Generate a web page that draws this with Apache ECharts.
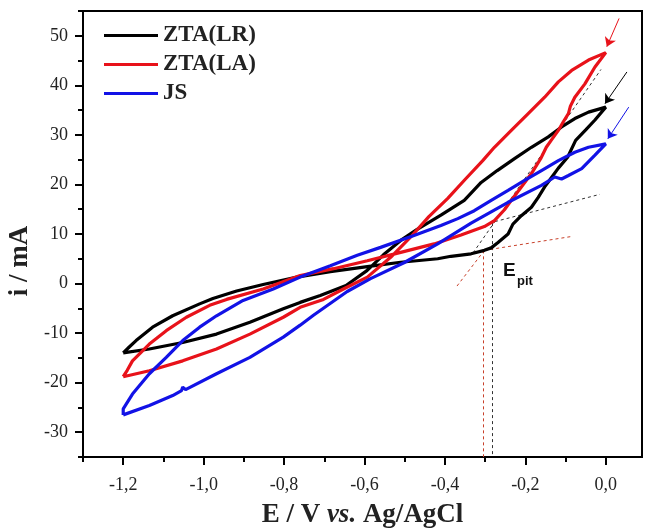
<!DOCTYPE html>
<html>
<head>
<meta charset="utf-8">
<script src="https://cdn.jsdelivr.net/npm/echarts@6/dist/echarts.min.js"></script>
<style>
  html, body { margin: 0; padding: 0; background: #fff; }
  #chart { width: 650px; height: 530px; }
</style>
</head>
<body>
<div id="chart"></div>
<script>
// series names
const names = ['ZTA(LR)', 'ZTA(LA)', 'JS']
const colors = ['#000000', '#e8121a', '#1212e6']

// tick positions
const xMajor = [-1.2, -1.0, -0.8, -0.6, -0.4, -0.2, 0.0]
const xMinor = [-1.3, -1.1, -0.9, -0.7, -0.5, -0.3, -0.1]
const yMajor = [-30, -20, -10, 0, 10, 20, 30, 40, 50]
const yMinor = [-35, -25, -15, -5, 5, 15, 25, 35, 45, 55]

// loops: [E (V), i (mA)]
const ztaLR = [
  [-1.2, -14.0], [-1.185, -12.8], [-1.168, -11.5], [-1.127, -8.8], [-1.077, -6.5],
  [-1.01, -4.1], [-0.977, -3.0], [-0.918, -1.5], [-0.852, -0.2], [-0.768, 1.3],
  [-0.685, 2.4], [-0.593, 3.4], [-0.51, 4.3], [-0.418, 5.0], [-0.385, 5.5],
  [-0.335, 6.0], [-0.302, 6.7], [-0.285, 7.2], [-0.268, 8.3], [-0.243, 10.0],
  [-0.231, 12.0], [-0.21, 13.7], [-0.185, 15.4], [-0.168, 17.4], [-0.152, 19.5],
  [-0.135, 21.4], [-0.118, 23.3], [-0.095, 25.5], [-0.075, 28.9], [-0.05, 31.0],
  [-0.027, 33.0], [0, 35.6],
  [-0.043, 34.6], [-0.077, 33.3], [-0.11, 31.6], [-0.143, 29.6], [-0.185, 27.5],
  [-0.227, 25.2], [-0.27, 22.8], [-0.31, 20.4], [-0.352, 16.8], [-0.41, 13.8],
  [-0.47, 10.9], [-0.51, 8.7], [-0.553, 5.8], [-0.594, 2.6], [-0.646, -0.4],
  [-0.71, -2.4], [-0.76, -3.8], [-0.802, -5.1], [-0.885, -7.8], [-0.968, -10.2],
  [-1.052, -11.9], [-1.135, -13.2], [-1.2, -14.0]
]
const ztaLA = [
  [-1.2, -18.8], [-1.19, -17.5], [-1.177, -15.6], [-1.135, -12.2], [-1.093, -9.5],
  [-1.043, -6.8], [-0.985, -4.4], [-0.943, -3.2], [-0.852, -1.1], [-0.76, 1.6],
  [-0.677, 3.0], [-0.593, 4.6], [-0.51, 6.3], [-0.427, 8.0], [-0.36, 9.8],
  [-0.302, 11.5], [-0.277, 12.7], [-0.252, 14.9], [-0.235, 16.8], [-0.21, 19.5],
  [-0.185, 22.2], [-0.162, 25.2], [-0.148, 27.5], [-0.135, 29.0], [-0.118, 30.9],
  [-0.106, 32.6], [-0.093, 34.3], [-0.088, 35.8], [-0.077, 37.6], [-0.052, 40.3],
  [-0.027, 43.7], [0, 46.6],
  [-0.043, 45.1], [-0.085, 43.0], [-0.118, 40.7], [-0.152, 37.6], [-0.193, 34.3],
  [-0.235, 30.9], [-0.277, 27.5], [-0.306, 24.8], [-0.35, 21.0], [-0.393, 17.2],
  [-0.44, 13.5], [-0.485, 9.4], [-0.535, 5.3], [-0.593, 1.3], [-0.65, -1.0],
  [-0.702, -3.2], [-0.76, -4.8], [-0.802, -6.8], [-0.885, -10.2], [-0.968, -13.2],
  [-1.052, -15.6], [-1.135, -17.6], [-1.2, -18.8]
]
const js = [
  [-1.2, -26.5], [-1.135, -24.6], [-1.077, -22.6], [-1.055, -21.6], [-1.052, -20.9],
  [-1.045, -21.4], [-0.968, -18.2], [-0.885, -14.9], [-0.802, -10.8], [-0.76, -8.4],
  [-0.727, -6.4], [-0.643, -1.6], [-0.585, 1.0], [-0.502, 4.2], [-0.418, 8.0],
  [-0.335, 12.2], [-0.243, 16.4], [-0.16, 19.8], [-0.127, 21.5], [-0.11, 21.1],
  [-0.093, 21.8], [-0.06, 23.2], [-0.027, 25.9], [0, 28.2],
  [-0.043, 27.5], [-0.077, 26.5], [-0.118, 24.8], [-0.16, 22.8], [-0.202, 20.8],
  [-0.243, 18.8], [-0.285, 16.8], [-0.327, 14.7], [-0.368, 13.1], [-0.41, 11.7],
  [-0.477, 9.7], [-0.56, 7.3], [-0.618, 5.7], [-0.685, 3.6], [-0.76, 1.3],
  [-0.827, -1.1], [-0.902, -3.4], [-0.968, -6.5], [-1.01, -8.8], [-1.052, -11.5],
  [-1.093, -14.9], [-1.135, -18.2], [-1.177, -22.3], [-1.2, -25.3], [-1.2, -26.5]
]

// E_pit construction lines (dotted)
const blackGuides = [
  [[-0.33, 6.2], [-0.012, 43.2]],
  [[-0.29, 12.2], [-0.015, 18.0]],
  [[-0.283, 12.2], [-0.283, -35]]
]
const redGuides = [
  [[-0.37, -0.5], [-0.302, 6.7]],
  [[-0.302, 6.7], [-0.085, 9.5]],
  [[-0.304, 6.7], [-0.304, -35]]
]
// scan direction arrows: red, black, blue
const arrows = [
  [[0.033, 53.5], [0.0025, 47.8]],
  [[0.0525, 42.7], [-0.002, 36.3]],
  [[0.057, 35.6], [0.005, 29.2]]
]
const arrowColors = [colors[1], colors[0], colors[2]]

const serif = 'Liberation Serif'
const chart = echarts.init(document.getElementById('chart'))

const loopSeries = [ztaLR, ztaLA, js].map((d, i) => ({
  name: names[i],
  type: 'line',
  data: d,
  showSymbol: false,
  symbol: 'none',
  lineStyle: { color: colors[i], width: 3.2 },
  itemStyle: { color: colors[i] },
  z: 3 + i,
}))

const guideSeries = (segs, color) => ({
  type: 'lines',
  coordinateSystem: 'cartesian2d',
  data: segs.map((c) => ({ coords: c })),
  lineStyle: { color: color, width: 1, type: [3, 3], opacity: 1 },
  z: 2,
})

const tickStyle = { color: '#000', width: 2 }

chart.setOption({
  animation: false,
  backgroundColor: '#fff',
  grid: {
    left: 83, right: 8, top: 11, bottom: 73,
    outerBoundsMode: 'none',
    show: true, borderColor: '#000', borderWidth: 2,
  },
  legend: {
    data: names,
    orient: 'vertical',
    left: 99, top: 19,
    itemWidth: 54, itemHeight: 3, itemGap: 6,
    icon: 'rect',
    textStyle: { fontFamily: serif, fontWeight: 'bold', fontSize: 23, color: '#222' },
  },
  xAxis: [
    {
      type: 'value',
      position: 'bottom',
      min: -1.3, max: 0.09,
      splitLine: { show: false },
      axisLine: { onZero: false, lineStyle: { color: '#000', width: 2 } },
      axisTick: { customValues: xMajor, length: 8, lineStyle: tickStyle },
      axisLabel: {
        customValues: xMajor,
        margin: 19, fontFamily: serif, fontSize: 18, color: '#222',
        formatter: (v) => v.toFixed(1).replace('.', ','),
      },
      name: '{b|E / V }{i|vs.}{b| Ag/AgCl}',
      nameLocation: 'middle',
      nameGap: 45,
      nameTextStyle: {
        rich: {
          b: { fontFamily: serif, fontWeight: 'bold', fontSize: 27, color: '#222' },
          i: { fontFamily: serif, fontWeight: 'bold', fontStyle: 'italic', fontSize: 27, color: '#222' },
        },
      },
    },
    {
      type: 'value',
      position: 'bottom',
      offset: 0,
      min: -1.3, max: 0.09,
      splitLine: { show: false },
      axisLine: { show: false, onZero: false },
      axisTick: { customValues: xMinor, length: 5, lineStyle: tickStyle },
      axisLabel: { show: false },
    },
  ],
  yAxis: [
    {
      type: 'value',
      position: 'left',
      min: -35, max: 55,
      splitLine: { show: false },
      axisLine: { onZero: false, lineStyle: { color: '#000', width: 2 } },
      axisTick: { customValues: yMajor, length: 8, lineStyle: tickStyle },
      axisLabel: {
        customValues: yMajor,
        margin: 15, fontFamily: serif, fontSize: 18, color: '#222',
        formatter: (v) => String(v),
      },
      name: 'i / mA',
      nameLocation: 'middle',
      nameGap: 47,
      nameTextStyle: {
        fontFamily: serif, fontWeight: 'bold', fontSize: 27, color: '#222',
        padding: [0, 54, 0, 0],
      },
    },
    {
      type: 'value',
      position: 'left',
      offset: 0,
      min: -35, max: 55,
      splitLine: { show: false },
      axisLine: { show: false, onZero: false },
      axisTick: { customValues: yMinor, length: 5, lineStyle: tickStyle },
      axisLabel: { show: false },
    },
  ],
  series: [
    guideSeries(blackGuides, '#333'),
    guideSeries(redGuides, '#c8402a'),
    ...loopSeries,
    {
      type: 'lines',
      coordinateSystem: 'cartesian2d',
      data: arrows.map((c, i) => ({ coords: c, lineStyle: { color: arrowColors[i] } })),
      symbol: ['none', 'arrow'],
      symbolSize: 9,
      lineStyle: { width: 1, opacity: 1 },
      z: 6,
    },
  ],
  graphic: [
    {
      type: 'text', left: 503, top: 261,
      style: { text: 'E', fontFamily: 'Liberation Sans', fontWeight: 'bold', fontSize: 19, fill: '#111' },
    },
    {
      type: 'text', left: 517, top: 275,
      style: { text: 'pit', fontFamily: 'Liberation Sans', fontWeight: 'bold', fontSize: 13, fill: '#111' },
    },
  ],
})
</script>
</body>
</html>
